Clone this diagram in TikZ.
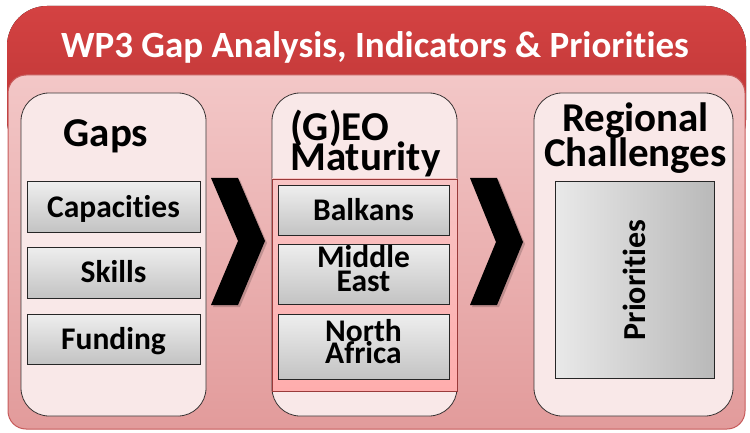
\documentclass[tikz,border=0pt]{standalone}
\usepackage{fontspec}
\setmainfont{Carlito}[Ligatures=NoCommon]
\definecolor{hdrtop}{HTML}{D44242}
\definecolor{hdrbot}{HTML}{B73333}
\definecolor{pnltop}{HTML}{F3C7C7}
\definecolor{pnlbot}{HTML}{E29B9B}
\definecolor{pnlline}{HTML}{C75B5B}
\definecolor{boxfill}{HTML}{F9E8E8}
\definecolor{boxline}{HTML}{3A3535}
\definecolor{itemtop}{HTML}{EEEEEE}
\definecolor{itembot}{HTML}{C3C3C3}
\definecolor{geotop}{HTML}{F8C4C4}
\definecolor{geobot}{HTML}{FFADAD}
\definecolor{geoline}{HTML}{9A3A3A}
\definecolor{prileft}{HTML}{E9E9E9}
\definecolor{priright}{HTML}{B9B9B9}
\begin{document}
\lineskiplimit=-100pt\relax
\lineskip=0pt\relax
\begin{tikzpicture}[x=1pt,y=-1pt,
  colbox/.style={draw=boxline, line width=0.8pt, fill=boxfill, rounded corners=28pt, inner sep=0pt},
  itembox/.style={draw=black!85, line width=1pt, top color=itemtop, bottom color=itembot,
     inner sep=0pt, font=\fontsize{31.5}{24}\selectfont\bfseries, align=center},
  onerow/.style={text height=20.3pt, text depth=0pt},
  headtext/.style={font=\fontsize{41}{30}\selectfont\bfseries, inner sep=0pt},
  chev/.style={fill=black},
  chevshadow/.style={fill=black, opacity=0.18}
]
\useasboundingbox (0,0) rectangle (750,433);
% header band and panel
\fill[top color=hdrtop, bottom color=hdrbot, rounded corners=40pt] (7,6) rectangle (746,160);
\draw[top color=pnltop, bottom color=pnlbot, draw=pnlline, line width=1pt, rounded corners=18pt] (8,75) rectangle (745,429);
\node[font=\fontsize{37}{37}\selectfont\bfseries, text=white, anchor=base, inner sep=0pt] (title) at (375,58) {WP3 Gap Analysis, Indicators \& Priorities};

% columns
\node[colbox, minimum width=185pt, minimum height=323pt] (gaps) at (113.5,254.5) {};
\node[colbox, minimum width=185pt, minimum height=323pt] (geo) at (364.5,254.5) {};
\node[colbox, minimum width=199pt, minimum height=323pt] (reg) at (633.5,254.5) {};

% column headings
\node[headtext, anchor=base] (gapsT) at (106,147) {Gaps};
\node[headtext, anchor=base west, align=left] (geoT) at (290,170.5) {(G)EO\\Maturity};
\node[headtext, anchor=base, font=\fontsize{41}{35}\selectfont\bfseries, align=center] (regT) at (635.5,167) {Regional\\Challenges};

% gaps items
\node[itembox, onerow, minimum width=173pt, minimum height=50pt] (cap) at (113.5,207) {Capacities};
\node[itembox, onerow, minimum width=173pt, minimum height=51pt] (ski) at (113.5,272.5) {Skills};
\node[itembox, onerow, minimum width=173pt, minimum height=50pt] (fun) at (113.5,339) {Funding};

% geo region panel and items
\node[draw=geoline, line width=0.7pt, top color=geotop, bottom color=geobot, minimum width=185pt, minimum height=212pt, inner sep=0pt] (geopanel) at (364.5,285) {};
\node[itembox, onerow, minimum width=171pt, minimum height=49pt] (bal) at (363.5,210.5) {Balkans};
\node[itembox, font=\fontsize{31.5}{23.7}\selectfont\bfseries, text height=43.7pt, text depth=9.7pt, minimum width=171pt, minimum height=60pt] (mid) at (363.5,274) {Middle\\East};
\node[itembox, font=\fontsize{31.5}{21.7}\selectfont\bfseries, text height=41.7pt, text depth=8.5pt, minimum width=171pt, minimum height=65pt] (naf) at (363.5,346.7) {North\\Africa};

% priorities
\node[draw=black!85, line width=1pt, left color=prileft, right color=priright, minimum width=159pt, minimum height=196pt, inner sep=0pt] (pri) at (634.5,280) {};
\node[font=\fontsize{32}{32}\selectfont\bfseries, rotate=90, inner sep=0pt] (priT) at (pri.center) {Priorities};

% chevrons
\fill[chevshadow] (213,180) -- (240,180) -- (267,243) -- (240,307) -- (213,307) -- (240,243) -- cycle;
\fill[chev] (211,178) -- (238,178) -- (265,241) -- (238,305) -- (211,305) -- (238,241) -- cycle;
\fill[chevshadow] (472,180) -- (499,180) -- (525,244) -- (499,307) -- (472,307) -- (498,244) -- cycle;
\fill[chev] (470,178) -- (497,178) -- (523,242) -- (497,305) -- (470,305) -- (496,242) -- cycle;
\end{tikzpicture}
\end{document}
